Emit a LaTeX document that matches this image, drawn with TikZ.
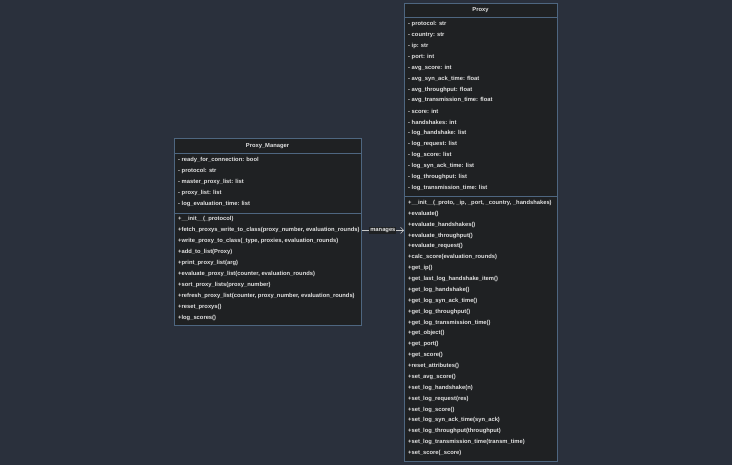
\documentclass[tikz,border=0pt]{standalone}
\usepackage{fontspec}
\setmainfont{Liberation Sans}
\usetikzlibrary{arrows.meta}
\definecolor{bgc}{HTML}{2A303C}
\definecolor{boxfill}{HTML}{1F2123}
\definecolor{boxline}{HTML}{4E6680}
\definecolor{txt}{HTML}{E2E2E2}
\definecolor{arrowc}{HTML}{C8C8C8}
\begin{document}
\begin{tikzpicture}[x=1pt,y=-1pt,
  classbox/.style={draw=boxline, fill=boxfill, line width=0.8pt, anchor=north west, inner sep=0pt},
  sepline/.style={draw=boxline, line width=0.8pt},
  member/.style={anchor=west, inner sep=0pt, text=txt, font=\bfseries\fontsize{5.8}{6}\selectfont},
  title/.style={anchor=center, inner sep=0pt, text=txt, font=\bfseries\fontsize{5.8}{6}\selectfont},
  rel/.style={draw=arrowc, line width=0.6pt, -{Straight Barb[length=3pt,width=6pt]}},
  rellabel/.style={fill=boxfill, text=txt, inner sep=1pt, font=\bfseries\fontsize{5.8}{6}\selectfont}]
\useasboundingbox[fill=bgc] (0,0) rectangle (732,465);

% Proxy_Manager
\node[classbox, minimum width=187pt, minimum height=187pt] (pm) at (174,138) {};
\node[title] (pmt) at (267.5,146) {Proxy\_Manager};
\draw[sepline] (174,153) -- (361,153);
\foreach \t [count=\i] in {
  {- ready\_for\_connection: bool},
  {- protocol: str},
  {- master\_proxy\_list: list},
  {- proxy\_list: list},
  {- log\_evaluation\_time: list}}
  \node[member] (pma\i) at (178,{160+11*(\i-1)}) {\t};
\draw[sepline] (174,213) -- (361,213);
\foreach \t [count=\i] in {
  {+\_\_init\_\_(\_protocol)},
  {+fetch\_proxys\_write\_to\_class(proxy\_number, evaluation\_rounds)},
  {+write\_proxy\_to\_class(\_type, proxies, evaluation\_rounds)},
  {+add\_to\_list(Proxy)},
  {+print\_proxy\_list(arg)},
  {+evaluate\_proxy\_list(counter, evaluation\_rounds)},
  {+sort\_proxy\_lists(proxy\_number)},
  {+refresh\_proxy\_list(counter, proxy\_number, evaluation\_rounds)},
  {+reset\_proxys()},
  {+log\_scores()}}
  \node[member] (pmm\i) at (178,{219.5+10.9*(\i-1)}) {\t};

% Proxy
\node[classbox, minimum width=153pt, minimum height=458pt] (px) at (404,3) {};
\node[title] (pxt) at (480.5,10) {Proxy};
\draw[sepline] (404,17) -- (557,17);
\foreach \t [count=\i] in {
  {- protocol: str},
  {- country: str},
  {- ip: str},
  {- port: int},
  {- avg\_score: int},
  {- avg\_syn\_ack\_time: float},
  {- avg\_throughput: float},
  {- avg\_transmission\_time: float},
  {- score: int},
  {- handshakes: int},
  {- log\_handshake: list},
  {- log\_request: list},
  {- log\_score: list},
  {- log\_syn\_ack\_time: list},
  {- log\_throughput: list},
  {- log\_transmission\_time: list}}
  \node[member] (pxa\i) at (408,{24+10.93*(\i-1)}) {\t};
\draw[sepline] (404,196.5) -- (557,196.5);
\foreach \t [count=\i] in {
  {+\_\_init\_\_(\_proto, \_ip, \_port, \_country, \_handshakes)},
  {+evaluate()},
  {+evaluate\_handshakes()},
  {+evaluate\_throughput()},
  {+evaluate\_request()},
  {+calc\_score(evaluation\_rounds)},
  {+get\_ip()},
  {+get\_last\_log\_handshake\_item()},
  {+get\_log\_handshake()},
  {+get\_log\_syn\_ack\_time()},
  {+get\_log\_throughput()},
  {+get\_log\_transmission\_time()},
  {+get\_object()},
  {+get\_port()},
  {+get\_score()},
  {+reset\_attributes()},
  {+set\_avg\_score()},
  {+set\_log\_handshake(n)},
  {+set\_log\_request(res)},
  {+set\_log\_score()},
  {+set\_log\_syn\_ack\_time(syn\_ack)},
  {+set\_log\_throughput(throughput)},
  {+set\_log\_transmission\_time(transm\_time)},
  {+set\_score(\_score)}}
  \node[member] (pxm\i) at (408,{203+10.87*(\i-1)}) {\t};

% relation
\draw[rel] (pm.east |- pmm2) -- node[rellabel] {manages} (px.west |- pmm2);
\end{tikzpicture}
\end{document}
